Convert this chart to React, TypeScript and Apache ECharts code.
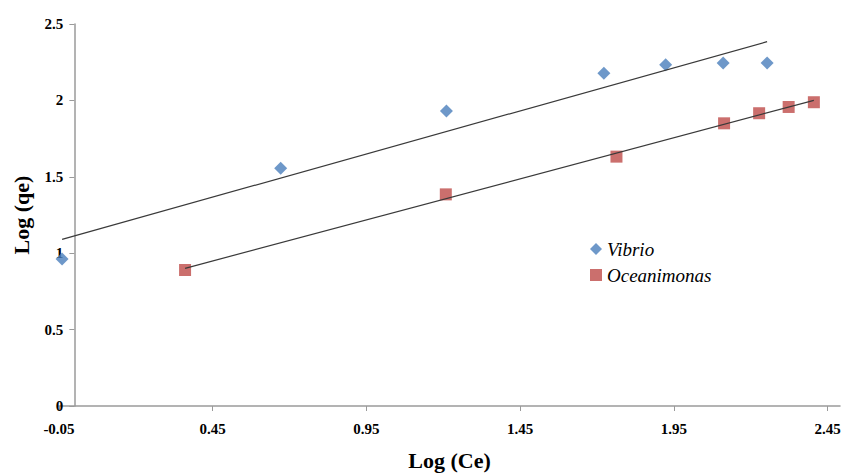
import React, { useEffect, useRef } from "react";
import * as echarts from "echarts";

const vibrioX = [-0.04, 0.671, 1.21, 1.722, 1.923, 2.11, 2.253];
const vibrioY = [0.962, 1.556, 1.931, 2.177, 2.234, 2.245, 2.245];
const oceanX = [0.36, 1.208, 1.763, 2.113, 2.227, 2.323, 2.405];
const oceanY = [0.89, 1.385, 1.632, 1.85, 1.916, 1.957, 1.988];

const seriesNames = ["Vibrio", "Oceanimonas"];
const xAxisTitle = "Log (Ce)";
const yAxisTitle = "Log (qe)";

const X_MIN = -0.05;
const X_MAX = 2.49;

function pairs(xs: number[], ys: number[]) {
  return xs.map((x, i) => [x, ys[i]]);
}

function trend(xs: number[], ys: number[]) {
  const n = xs.length;
  const mx = xs.reduce((a, b) => a + b, 0) / n;
  const my = ys.reduce((a, b) => a + b, 0) / n;
  let sxy = 0;
  let sxx = 0;
  for (let i = 0; i < n; i++) {
    sxy += (xs[i] - mx) * (ys[i] - my);
    sxx += (xs[i] - mx) * (xs[i] - mx);
  }
  const b = sxy / sxx;
  const a = my - b * mx;
  const x0 = Math.min(...xs);
  const x1 = Math.max(...xs);
  return [
    [x0, a + b * x0],
    [x1, a + b * x1],
  ];
}

const SERIF = "'Liberation Serif', 'Times New Roman', serif";

export default function App() {
  const ref = useRef<HTMLDivElement>(null);
  useEffect(() => {
    if (!ref.current) return;
    const chart = echarts.init(ref.current, undefined, { renderer: "svg" });
    const W = 843;
    const gridLeft = 59;
    const gridRight = 3;
    const gridWidth = W - gridLeft - gridRight;
    // the vertical axis crosses the horizontal one at x = 0
    const yAxisOffset = -((0 - X_MIN) / (X_MAX - X_MIN)) * gridWidth;
    chart.setOption({
      animation: false,
      backgroundColor: "#ffffff",
      grid: { left: gridLeft, right: gridRight, top: 24, bottom: 67, outerBoundsMode: "none", containLabel: false },
      legend: {
        data: [
          { name: seriesNames[0], icon: "diamond" },
          { name: seriesNames[1], icon: "rect" },
        ],
        orient: "vertical",
        left: 585,
        top: 234,
        itemWidth: 12,
        itemHeight: 12,
        itemGap: 6,
        textStyle: {
          fontFamily: SERIF,
          fontStyle: "italic",
          fontSize: 19,
          color: "#000",
          lineHeight: 20,
        },
      },
      xAxis: {
        type: "value",
        min: X_MIN,
        max: X_MAX,
        interval: 0.5,
        name: xAxisTitle,
        nameLocation: "middle",
        nameGap: 43,
        nameTextStyle: { fontFamily: SERIF, fontWeight: "bold", fontSize: 22, color: "#000" },
        axisLine: { show: true, onZero: false, lineStyle: { color: "#9a9a9a", width: 1.5 } },
        axisTick: { show: true, length: 5, lineStyle: { color: "#9a9a9a" } },
        axisLabel: {
          margin: 15,
          showMaxLabel: false,
          fontFamily: SERIF,
          fontWeight: "bold",
          fontSize: 15,
          color: "#000",
          formatter: (v: number) => v.toFixed(2),
        },
        splitLine: { show: false },
      },
      yAxis: {
        type: "value",
        min: 0,
        max: 2.5,
        interval: 0.5,
        offset: yAxisOffset,
        name: yAxisTitle,
        nameLocation: "middle",
        nameGap: 42,
        nameTextStyle: { fontFamily: SERIF, fontWeight: "bold", fontSize: 22, color: "#000" },
        axisLine: { show: true, onZero: false, lineStyle: { color: "#9a9a9a", width: 1.5 } },
        axisTick: { show: true, length: 5, lineStyle: { color: "#9a9a9a" } },
        axisLabel: {
          margin: 11,
          fontFamily: SERIF,
          fontWeight: "bold",
          fontSize: 15,
          color: "#000",
        },
        splitLine: { show: false },
      },
      series: [
        {
          name: seriesNames[0],
          type: "scatter",
          symbol: "diamond",
          symbolSize: 13,
          itemStyle: { color: "#4A7EBB" },
          data: pairs(vibrioX, vibrioY),
          z: 2,
        },
        {
          name: seriesNames[1],
          type: "scatter",
          symbol: "rect",
          symbolSize: 12,
          itemStyle: { color: "#BE4B48" },
          data: pairs(oceanX, oceanY),
          z: 2,
        },
        {
          name: "Vibrio trend",
          type: "line",
          data: trend(vibrioX, vibrioY),
          showSymbol: false,
          symbol: "none",
          silent: true,
          lineStyle: { color: "#3a3a3a", width: 1.2 },
          z: 3,
        },
        {
          name: "Oceanimonas trend",
          type: "line",
          data: trend(oceanX, oceanY),
          showSymbol: false,
          symbol: "none",
          silent: true,
          lineStyle: { color: "#3a3a3a", width: 1.2 },
          z: 3,
        },
      ],
    });
    return () => chart.dispose();
  }, []);
  return (
    <div
      ref={ref}
      style={{ position: "fixed", left: 0, top: 0, width: 843, height: 473, background: "#fff" }}
    />
  );
}
